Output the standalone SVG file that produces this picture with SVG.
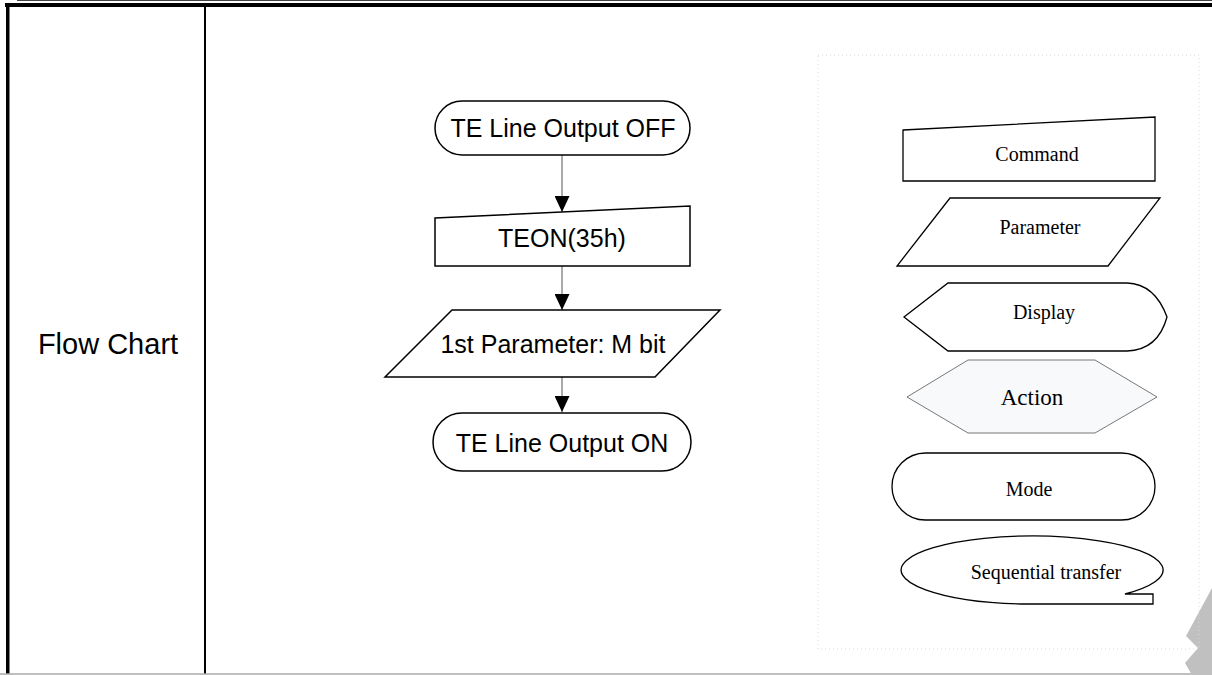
<svg xmlns="http://www.w3.org/2000/svg" width="1212" height="675" viewBox="0 0 1212 675">
<defs>
<style>
.shape{fill:#fff;stroke:#000;stroke-width:1.5}
.lg{fill:#fff;stroke:#000;stroke-width:1.3}
.conn{stroke:#555;stroke-width:1;fill:none}
.ft{font-family:"Liberation Sans",Arial,sans-serif;font-size:25px;fill:#000;text-anchor:middle}
.lt{font-family:"Liberation Serif","Times New Roman",serif;font-size:20px;fill:#000;text-anchor:middle}
</style>
<marker id="arr" viewBox="0 0 16 15" refX="16" refY="7.5" markerWidth="16" markerHeight="15" markerUnits="userSpaceOnUse" orient="auto">
<path d="M0,0 L16,7.5 L0,15 Z" fill="#000"/>
</marker>
</defs>
<rect width="1212" height="675" fill="#fff"/>
<g id="frame">
<line x1="17" y1="0.5" x2="1212" y2="0.5" stroke="#444" stroke-width="1"/>
<rect x="5" y="3" width="1207" height="4" fill="#000"/>
<rect x="6" y="3" width="3.5" height="671" fill="#000"/>
<rect x="204" y="7" width="2" height="667" fill="#000"/>
<line x1="0" y1="674" x2="1212" y2="674" stroke="#aaa" stroke-width="1.5"/>
<polygon points="1212,588 1186,636 1198,648 1185,663 1192,675 1212,675" fill="#c0c0c0"/>
</g>
<g id="label">
<text class="ft" x="108" y="354" style="font-size:29px">Flow Chart</text>
</g>
<g id="connectors">
<line class="conn" x1="562" y1="155" x2="562" y2="212" marker-end="url(#arr)"/>
<line class="conn" x1="562" y1="266" x2="562" y2="310" marker-end="url(#arr)"/>
<line class="conn" x1="562" y1="377" x2="562" y2="412" marker-end="url(#arr)"/>
</g>
<g id="n-off">
<rect class="shape" x="435" y="101" width="255" height="54" rx="27" ry="27"/>
<text class="ft" x="563" y="137">TE Line Output OFF</text>
</g>
<g id="n-teon">
<polygon class="shape" points="435,218 690,206 690,266 435,266"/>
<text class="ft" x="562" y="247">TEON(35h)</text>
</g>
<g id="n-param">
<polygon class="shape" points="452,310 720,310 655,377 385,377"/>
<text class="ft" x="553" y="353">1st Parameter: M bit</text>
</g>
<g id="n-on">
<rect class="shape" x="433" y="413" width="258" height="58" rx="29" ry="29"/>
<text class="ft" x="562" y="452">TE Line Output ON</text>
</g>
<g id="legend">
<rect x="818" y="55" width="381" height="594" fill="none" stroke="#d8d8d8" stroke-width="1" stroke-dasharray="1,3"/>
</g>
<g id="l-command">
<polygon class="lg" points="903,130 1155,117 1155,181 903,181"/>
<text class="lt" x="1037" y="161">Command</text>
</g>
<g id="l-parameter">
<polygon class="lg" points="950,198 1160,198 1108,266 897,266"/>
<text class="lt" x="1040" y="234">Parameter</text>
</g>
<g id="l-display">
<path class="lg" d="M904,317 L948,283 L1127,283 Q1155,284 1167,317 Q1158,350 1127,351 L948,351 Z"/>
<text class="lt" x="1044" y="319">Display</text>
</g>
<g id="l-action">
<polygon points="907,397 968,360 1095,360 1157,397 1095,433 968,433" fill="#f8f9fb" stroke="#555" stroke-width="0.8"/>
<text class="lt" x="1032" y="405" style="font-size:23px">Action</text>
</g>
<g id="l-mode">
<rect class="lg" x="892" y="453" width="263" height="67" rx="33.5" ry="33.5"/>
<text class="lt" x="1029" y="496">Mode</text>
</g>
<g id="l-seq">
<path class="lg" d="M1125,594 A131 34 0 1 0 1027,604 L1153,604 L1153,594 Z"/>
<text class="lt" x="1046" y="579">Sequential transfer</text>
</g>
</svg>
